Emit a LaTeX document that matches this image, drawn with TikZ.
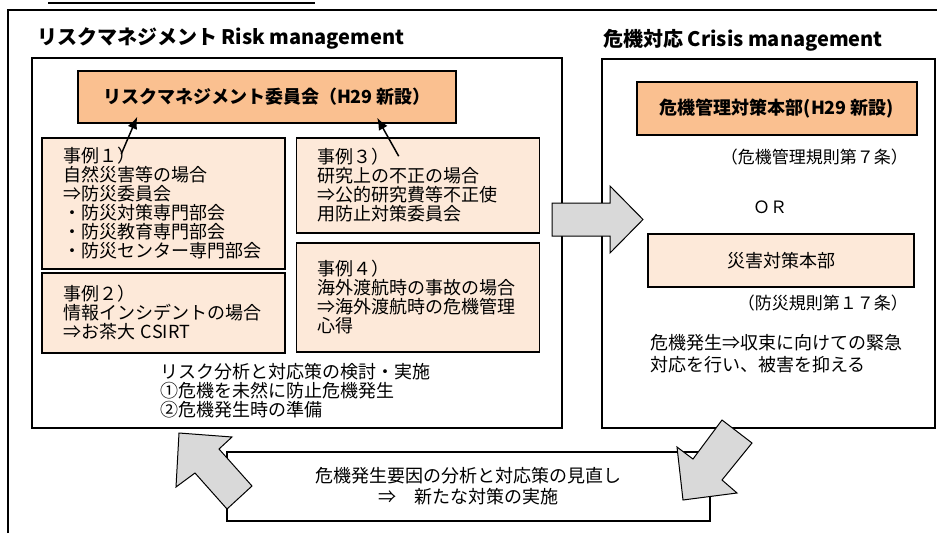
\documentclass[tikz,border=0pt]{standalone}
\usepackage{fontspec}
\setmainfont{Noto Sans CJK JP}
\usetikzlibrary{arrows.meta, positioning}
\definecolor{comorange}{HTML}{FAC090}
\definecolor{casepeach}{HTML}{FDE9D9}
\definecolor{flowgray}{HTML}{D9D9D9}
\tikzset{
	headtext/.style={inner sep=0pt, font=\bfseries\fontsize{20}{22}\selectfont},
	bodytext/.style={inner sep=0pt, font=\fontsize{18}{19}\selectfont},
	notetext/.style={inner sep=0pt, font=\fontsize{17}{22}\selectfont},
	framebox/.style={line width=2pt},
	areabox/.style={draw, rectangle, line width=1.4pt, inner sep=0pt},
	orangebox/.style={draw, rectangle, line width=1.6pt, fill=comorange, inner sep=0pt, font=\bfseries\fontsize{18}{20}\selectfont},
	peachbox/.style={draw, rectangle, line width=1.6pt, fill=casepeach, inner sep=0pt, font=\fontsize{18}{20}\selectfont},
	casebox/.style={draw, rectangle, line width=1.6pt, fill=casepeach, inner xsep=21pt, inner ysep=0pt, text width=201pt, minimum width=243pt, align=left, font=\fontsize{18}{19}\selectfont},
	comarrow/.style={-{Latex[length=12pt,width=10pt]}, line width=1.5pt},
	flowarrow/.style={draw, line width=1pt, fill=flowgray, line join=miter}
}
\begin{document}
\begin{tikzpicture}[x=1pt,y=-1pt]
	\useasboundingbox (0,0) rectangle (937,533);
	\draw[framebox] (48,3) -- (315,3);
	\draw[framebox] (8,533) -- (8,10) -- (937,10);
	\node at (37,38) (risktitle) [anchor=west, headtext]{リスクマネジメント Risk management};
	\node at (603,40) (crisistitle) [anchor=west, headtext]{危機対応 Crisis management};
	\node at (297,243) (riskarea) [areabox, minimum width=530pt, minimum height=370pt]{};
	\node at (768.5,243.5) (crisisarea) [areabox, minimum width=333pt, minimum height=369pt]{};
	\node at (267,97) (riskcom) [orangebox, minimum width=378pt, minimum height=52pt]{リスクマネジメント委員会（H29 新設）};
	\node at (163.5,203.5) (case1) [casebox, minimum height=131pt]{事例１）\\自然災害等の場合\\⇒防災委員会\\・防災対策専門部会\\・防災教育専門部会\\・防災センター専門部会};
	\node at (163.5,313) (case2) [casebox, minimum height=80pt]{事例２）\\情報インシデントの場合\\⇒お茶大 CSIRT};
	\node at (418,185.5) (case3) [casebox, minimum height=95pt]{事例３）\\研究上の不正の場合\\⇒公的研究費等不正使\\用防止対策委員会};
	\node at (418,297.5) (case4) [casebox, minimum height=109pt]{事例４）\\海外渡航時の事故の場合\\⇒海外渡航時の危機管理\\心得};
	\draw[comarrow] ([shift={(80pt,-17pt)}]case1.north west) -- ([shift={(60pt,7pt)}]riskcom.south west);
	\draw[comarrow] ([shift={(103pt,-19pt)}]case3.north west) -- ([shift={(300pt,6pt)}]riskcom.south west);
	\node at (160,391) (riskplan) [anchor=west, bodytext, align=left]{リスク分析と対応策の検討・実施\\①危機を未然に防止危機発生\\②危機発生時の準備};
	\node at (777,108.5) (crisiscom) [orangebox, minimum width=280pt, minimum height=53pt]{危機管理対策本部(H29 新設)};
	\node at (908,157) (crisisrule) [anchor=east, notetext]{（危機管理規則第７条）};
	\node at (770,207) (ortext) [notetext]{ＯＲ};
	\node at (781,260.5) (disastercom) [peachbox, minimum width=266pt, minimum height=53pt]{災害対策本部};
	\node at (908,303) (disasterrule) [anchor=east, notetext]{（防災規則第１７条）};
	\node at (650,354) (crisisplan) [anchor=west, notetext, align=left, font=\fontsize{18}{22}\selectfont]{危機発生⇒収束に向けての緊急\\対応を行い、被害を抑える};
	\node at (468.5,486.5) (reviewbox) [areabox, fill=white, minimum width=483pt, minimum height=69pt, align=center, font=\fontsize{18}{21}\selectfont]{危機発生要因の分析と対応策の見直し\\⇒　新たな対策の実施};
	\draw[flowarrow] (552,203) -- (610,203) -- (610,186) -- (643,219.5) -- (610,253) -- (610,236) -- (552,236) -- cycle;
	\draw[flowarrow] (722,420) -- (752,443) -- (722,480) -- (737,493) -- (683,500) -- (677,447) -- (693,459) -- cycle;
	\draw[flowarrow] (179,433) -- (232,437) -- (219,449) -- (252,486) -- (227,509) -- (195,473) -- (176,487) -- cycle;
\end{tikzpicture}
\end{document}
